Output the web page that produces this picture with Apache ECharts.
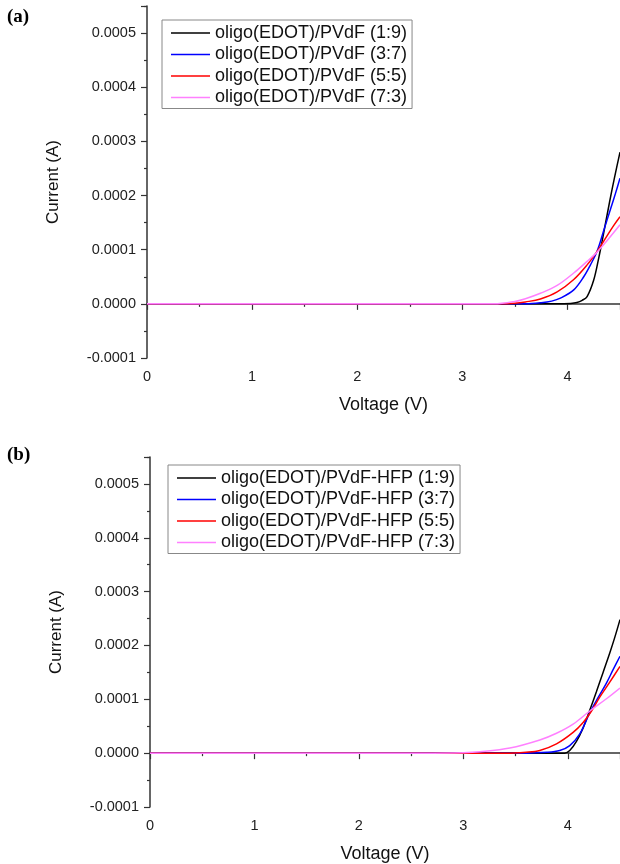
<!DOCTYPE html>
<html>
<head>
<meta charset="utf-8">
<script src="https://cdn.jsdelivr.net/npm/echarts@6/dist/echarts.min.js"></script>
<style>html,body{margin:0;padding:0;background:#fff}#c{width:620px;height:864px}</style>
</head>
<body>
<div id="c"></div>
<script>
// Panel (a): oligo(EDOT)/PVdF
const legendA = ['oligo(EDOT)/PVdF (1:9)', 'oligo(EDOT)/PVdF (3:7)', 'oligo(EDOT)/PVdF (5:5)', 'oligo(EDOT)/PVdF (7:3)'];
const vA19 = [0, 3.90, 4.03, 4.09, 4.14, 4.187, 4.25, 4.298, 4.33, 4.378, 4.425, 4.473, 4.50];
const iA19 = [0, 0, 0.0000008, 0.0000025, 0.0000065, 0.0000135, 0.000044, 0.000085, 0.000116, 0.000165, 0.000212, 0.000256, 0.00028];
const vA37 = [0, 3.60, 3.75, 3.85, 3.933, 4.06, 4.155, 4.219, 4.282, 4.346, 4.41, 4.457, 4.50];
const iA37 = [0, 0, 0.000002, 0.000005, 0.0000105, 0.0000258, 0.00005, 0.000072, 0.000097, 0.000136, 0.000175, 0.000204, 0.000232];
const vA55 = [0, 3.35, 3.50, 3.60, 3.743, 3.902, 4.06, 4.187, 4.282, 4.378, 4.441, 4.50];
const iA55 = [0, 0, 0.000001, 0.0000035, 0.000009, 0.000022, 0.000045, 0.000072, 0.000097, 0.000126, 0.000145, 0.000161];
const vA73 = [0, 3.30, 3.49, 3.60, 3.743, 3.902, 4.06, 4.187, 4.282, 4.378, 4.50];
const iA73 = [0, 0, 0.000004, 0.0000095, 0.0000195, 0.000034, 0.000057, 0.0000785, 0.0000955, 0.000117, 0.000146];

// Panel (b): oligo(EDOT)/PVdF-HFP
const legendB = ['oligo(EDOT)/PVdF-HFP (1:9)', 'oligo(EDOT)/PVdF-HFP (3:7)', 'oligo(EDOT)/PVdF-HFP (5:5)', 'oligo(EDOT)/PVdF-HFP (7:3)'];
const vB19 = [0, 3.97, 4.019, 4.083, 4.147, 4.211, 4.274, 4.338, 4.402, 4.45, 4.50];
const iB19 = [0, 0, 0.000005, 0.000022, 0.000047, 0.00008, 0.000114, 0.00015, 0.000186, 0.000215, 0.000248];
const vB37 = [0, 3.60, 3.80, 3.923, 4.019, 4.115, 4.211, 4.29, 4.37, 4.434, 4.50];
const iB37 = [0, 0, 0.0000015, 0.000005, 0.0000141, 0.0000356, 0.0000752, 0.000103, 0.00013, 0.000155, 0.00018];
const vB55 = [0, 3.40, 3.60, 3.732, 3.892, 4.051, 4.147, 4.227, 4.306, 4.402, 4.50];
const iB55 = [0, 0, 0.0000018, 0.000005, 0.0000172, 0.0000385, 0.0000569, 0.0000783, 0.000104, 0.000132, 0.000161];
const vB73 = [0, 2.60, 3.00, 3.158, 3.445, 3.732, 3.892, 4.051, 4.211, 4.37, 4.50];
const iB73 = [0, 0, 0.0000008, 0.0000025, 0.0000095, 0.0000245, 0.000037, 0.000054, 0.0000783, 0.000101, 0.000121];

const xMin = 0, xMax = 4.5, xStep = 1;
const yMin = -0.0001, yMax = 0.00055, yStep = 0.0001;
const colors = ['#000000', '#0000ff', '#ff0000', '#ff80ff'];

function zip(v, i) { return v.map((x, k) => [x, i[k]]); }

const font = 'Liberation Sans, Arial, sans-serif';
const axisCol = '#333';

function xAxis(gi) {
  return {
    type: 'value', gridIndex: gi, min: xMin, max: xMax, interval: xStep,
    name: 'Voltage (V)', nameLocation: 'middle', nameGap: 38,
    nameTextStyle: { fontFamily: font, fontSize: 18, color: '#111' },
    axisLine: { show: true, lineStyle: { color: axisCol, width: 1.5 } },
    axisTick: { show: true, length: 6, lineStyle: { color: axisCol, width: 1.2 } },
    minorTick: { show: true, splitNumber: 2, length: 3, lineStyle: { color: axisCol, width: 1.2 } },
    splitLine: { show: false },
    axisLabel: { fontFamily: font, fontSize: 14.5, color: '#222', margin: 11, showMaxLabel: false }
  };
}
function yAxis(gi) {
  return {
    type: 'value', gridIndex: gi, min: yMin, max: yMax, interval: yStep,
    name: 'Current (A)', nameLocation: 'middle', nameGap: 85, nameRotate: 90,
    nameTextStyle: { fontFamily: font, fontSize: 17, color: '#111' },
    axisLine: { show: true, lineStyle: { color: axisCol, width: 1.5 } },
    axisTick: { show: true, length: 6, lineStyle: { color: axisCol, width: 1.2 } },
    minorTick: { show: true, splitNumber: 2, length: 3, lineStyle: { color: axisCol, width: 1.2 } },
    splitLine: { show: false },
    axisLabel: {
      fontFamily: font, fontSize: 14.5, color: '#222', margin: 11, showMaxLabel: false,
      formatter: v => Math.abs(v) < 1e-12 ? '0.0000' : v.toFixed(4)
    }
  };
}
function legend(names, left, top) {
  return {
    data: names, orient: 'vertical', left: left, top: top,
    padding: [4, 5, 2, 9], itemGap: 3.5, itemWidth: 39, itemHeight: 1.5,
    icon: 'rect',
    borderColor: '#888', borderWidth: 1, borderRadius: 0,
    textStyle: { fontFamily: font, fontSize: 18, color: '#111' }
  };
}
function series(name, data, ci, xi) {
  return {
    type: 'line', name: name, data: data, xAxisIndex: xi, yAxisIndex: xi,
    symbol: 'none', smooth: 0.35,
    lineStyle: { color: colors[ci], width: 1.5 }, itemStyle: { color: colors[ci] },
    emphasis: { disabled: true }
  };
}

const chart = echarts.init(document.getElementById('c'), null, { renderer: 'canvas' });
chart.setOption({
  animation: false,
  backgroundColor: '#fff',
  grid: [
    { left: 147, right: 0, top: 6, height: 352 },
    { left: 150, right: 0, top: 457, height: 350 }
  ],
  xAxis: [xAxis(0), xAxis(1)],
  yAxis: [yAxis(0), yAxis(1)],
  legend: [legend(legendA, 162, 20), legend(legendB, 168, 465)],
  graphic: [
    { type: 'text', left: 7, top: 8, style: { text: '(a)', font: 'bold 19px "Liberation Serif", "Times New Roman", serif', fill: '#000' } },
    { type: 'text', left: 7, top: 446, style: { text: '(b)', font: 'bold 19px "Liberation Serif", "Times New Roman", serif', fill: '#000' } }
  ],
  series: [
    series(legendA[0], zip(vA19, iA19), 0, 0),
    series(legendA[1], zip(vA37, iA37), 1, 0),
    series(legendA[2], zip(vA55, iA55), 2, 0),
    series(legendA[3], zip(vA73, iA73), 3, 0),
    series(legendB[0], zip(vB19, iB19), 0, 1),
    series(legendB[1], zip(vB37, iB37), 1, 1),
    series(legendB[2], zip(vB55, iB55), 2, 1),
    series(legendB[3], zip(vB73, iB73), 3, 1)
  ]
});
</script>
</body>
</html>
